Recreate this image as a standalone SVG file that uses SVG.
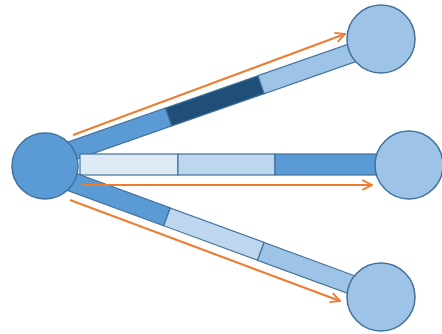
<svg xmlns="http://www.w3.org/2000/svg" width="442" height="334" viewBox="0 0 442 334">
  <defs>
    <style>
      .seg { stroke: #41719c; stroke-width: 1.2; }
      .s1 { fill: #deebf7; }
      .s2 { fill: #bdd7ee; }
      .s3 { fill: #9dc3e6; }
      .s4 { fill: #5b9bd5; }
      .s5 { fill: #1f4e79; }
      .hub { fill: #5b9bd5; stroke: #41719c; stroke-width: 1.5; }
      .leaf { fill: #9dc3e6; stroke: #41719c; stroke-width: 1.5; }
      .arrow { fill: none; stroke: #ed7d31; stroke-width: 2; marker-end: url(#chev); }
    </style>
    <marker id="chev" viewBox="0 0 10 10" refX="9" refY="5" markerWidth="6" markerHeight="6" orient="auto" markerUnits="strokeWidth">
      <path d="M1,1 L9,5 L1,9" fill="none" stroke="#ed7d31" stroke-width="1.6"/>
    </marker>
  </defs>
  <g id="connectors">
    <g id="bar-top" transform="translate(77,149) rotate(-19.25)">
      <rect class="seg s4" x="-12" y="-9.5" width="109" height="19"/>
      <rect class="seg s5" x="97" y="-9.5" width="98" height="19"/>
      <rect class="seg s3" x="195" y="-9.5" width="100" height="19"/>
    </g>
    <g id="bar-mid">
      <rect class="seg s1" x="80" y="154" width="98" height="21"/>
      <rect class="seg s2" x="178" y="154" width="97" height="21"/>
      <rect class="seg s4" x="275" y="154" width="102" height="21"/>
    </g>
    <g id="bar-bottom" transform="translate(75,183) rotate(20.2)">
      <rect class="seg s4" x="-12" y="-9.5" width="110" height="19"/>
      <rect class="seg s2" x="98" y="-9.5" width="100" height="19"/>
      <rect class="seg s3" x="198" y="-9.5" width="100" height="19"/>
    </g>
  </g>
  <g id="node-hub"><circle class="hub" cx="45" cy="166" r="33"/></g>
  <g id="node-top"><circle class="leaf" cx="381" cy="39" r="34"/></g>
  <g id="node-mid"><circle class="leaf" cx="409" cy="165" r="34"/></g>
  <g id="node-bottom"><circle class="leaf" cx="381" cy="297" r="34"/></g>
  <g id="arrows">
    <line class="arrow" x1="73" y1="135" x2="345" y2="34"/>
    <line class="arrow" x1="82" y1="185" x2="372" y2="185"/>
    <line class="arrow" x1="70" y1="200" x2="340" y2="301"/>
  </g>
</svg>
